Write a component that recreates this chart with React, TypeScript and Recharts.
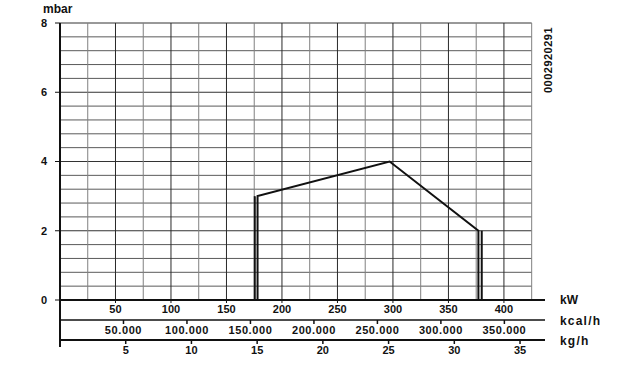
import React from 'react';
import { LineChart, Line, XAxis, YAxis, ReferenceLine } from 'recharts';

const kwTicks = [50, 100, 150, 200, 250, 300, 350, 400];
const kcalTicks = [50000, 100000, 150000, 200000, 250000, 300000, 350000];
const kghTicks = [5, 10, 15, 20, 25, 30, 35];
const mbarTicks = [0, 2, 4, 6, 8];

const gridKw = [25, 50, 75, 100, 125, 150, 175, 200, 225, 250, 275, 300, 325, 350, 375, 400, 425];
const gridMbar = [0.4, 0.8, 1.2, 1.6, 2, 2.4, 2.8, 3.2, 3.6, 4, 4.4, 4.8, 5.2, 5.6, 6, 6.4, 6.8, 7.2, 7.6, 8];

const profileKw = [178, 178, 297, 377, 377];
const profileMbar = [0, 3, 4, 2, 0];
const leftEdgeKw = [175.5, 175.5];
const leftEdgeMbar = [0, 3];
const rightEdgeKw = [380, 380];
const rightEdgeMbar = [0, 2];

const kcalRange = [0, 382000];
const kghRange = [0, 36.9];

const toPoints = (xs: number[], ys: number[]) => xs.map((x, i) => ({ x, y: ys[i] }));
const profile = toPoints(profileKw, profileMbar);
const leftEdge = toPoints(leftEdgeKw, leftEdgeMbar);
const rightEdge = toPoints(rightEdgeKw, rightEdgeMbar);
const kcalAnchor = toPoints(kcalRange, [0, 0]);
const kghAnchor = toPoints(kghRange, [0, 0]);

const FONT = '"Liberation Sans", Arial, sans-serif';
const tickStyle = { fontSize: 11, fontWeight: 700, fill: '#111', fontFamily: FONT };
const fmtKcal = (v: number) => `${v / 1000}.000`;

const labelStyle: React.CSSProperties = {
  position: 'absolute',
  fontFamily: FONT,
  fontWeight: 700,
  fontSize: 12,
  color: '#111',
  lineHeight: 1,
  whiteSpace: 'nowrap',
};

export default function App() {
  return (
    <div style={{ position: 'absolute', left: 0, top: 0, width: 631, height: 369, background: '#fff' }}>
      <LineChart
        width={631}
        height={369}
        margin={{ top: 23, right: 86, bottom: 9, left: 0 }}
      >
        <XAxis
          xAxisId="a"
          type="number"
          dataKey="x"
          domain={[0, 437]}
          allowDataOverflow
          ticks={kwTicks}
          height={20}
          tickSize={3}
          tickMargin={2}
          tick={tickStyle}
          axisLine={{ stroke: '#111', strokeWidth: 2 }}
          tickLine={{ stroke: '#111' }}
        />
        <XAxis
          xAxisId="b"
          type="number"
          dataKey="x"
          domain={kcalRange}
          allowDataOverflow
          ticks={kcalTicks}
          tickFormatter={fmtKcal}
          height={20}
          tickSize={4}
          tickMargin={2}
          tick={{ ...tickStyle, letterSpacing: 0.6 }}
          axisLine={{ stroke: '#111', strokeWidth: 1.5 }}
          tickLine={{ stroke: '#111', strokeWidth: 1.5 }}
        />
        <XAxis
          xAxisId="c"
          type="number"
          dataKey="x"
          domain={kghRange}
          allowDataOverflow
          ticks={kghTicks}
          height={20}
          tickSize={4}
          tickMargin={2}
          tick={tickStyle}
          axisLine={{ stroke: '#111', strokeWidth: 2 }}
          tickLine={{ stroke: '#111', strokeWidth: 1.5 }}
        />
        <YAxis
          type="number"
          domain={[0, 8]}
          allowDataOverflow
          ticks={mbarTicks}
          width={60}
          tickSize={5}
          tickMargin={8}
          tick={tickStyle}
          axisLine={{ stroke: '#111', strokeWidth: 2 }}
          tickLine={{ stroke: '#111' }}
        />
        {gridMbar.map((m) => (
          <ReferenceLine
            key={`h${m}`}
            xAxisId="a"
            segment={[{ x: 0, y: m }, { x: 425, y: m }]}
            stroke={Number.isInteger(m) ? '#333' : '#5a5a5a'}
            strokeWidth={1}
            ifOverflow="visible"
          />
        ))}
        {gridKw.map((k) => (
          <ReferenceLine
            key={`v${k}`}
            xAxisId="a"
            segment={[{ x: k, y: 0 }, { x: k, y: 8 }]}
            stroke={k % 50 === 0 ? '#2a2a2a' : '#808080'}
            strokeWidth={1}
            ifOverflow="visible"
          />
        ))}
        <ReferenceLine
          xAxisId="a"
          segment={[{ x: 0, y: 0 }, { x: 0, y: -1.36 }]}
          stroke="#111"
          strokeWidth={2}
          ifOverflow="visible"
        />
        <Line xAxisId="b" data={kcalAnchor} dataKey="y" stroke="none" dot={false} activeDot={false} isAnimationActive={false} />
        <Line xAxisId="c" data={kghAnchor} dataKey="y" stroke="none" dot={false} activeDot={false} isAnimationActive={false} />
        <Line
          xAxisId="a"
          data={profile}
          dataKey="y"
          type="linear"
          stroke="#111"
          strokeWidth={2}
          dot={false}
          isAnimationActive={false}
        />
        <Line
          xAxisId="a"
          data={leftEdge}
          dataKey="y"
          type="linear"
          stroke="#111"
          strokeWidth={2}
          dot={false}
          isAnimationActive={false}
        />
        <Line
          xAxisId="a"
          data={rightEdge}
          dataKey="y"
          type="linear"
          stroke="#111"
          strokeWidth={2}
          dot={false}
          isAnimationActive={false}
        />
      </LineChart>
      <div style={{ ...labelStyle, left: 43, top: 3, fontSize: 12 }}>mbar</div>
      <div style={{ ...labelStyle, left: 560, top: 294 }}>kW</div>
      <div style={{ ...labelStyle, left: 560, top: 315, letterSpacing: 1.2 }}>kcal/h</div>
      <div style={{ ...labelStyle, left: 560, top: 335, letterSpacing: 1.2 }}>kg/h</div>
      <div
        style={{
          ...labelStyle,
          left: 548,
          top: 60,
          fontSize: 11,
          letterSpacing: 0.5,
          transform: 'translate(-50%, -50%) rotate(-90deg)',
        }}
      >
        0002920291
      </div>
    </div>
  );
}
